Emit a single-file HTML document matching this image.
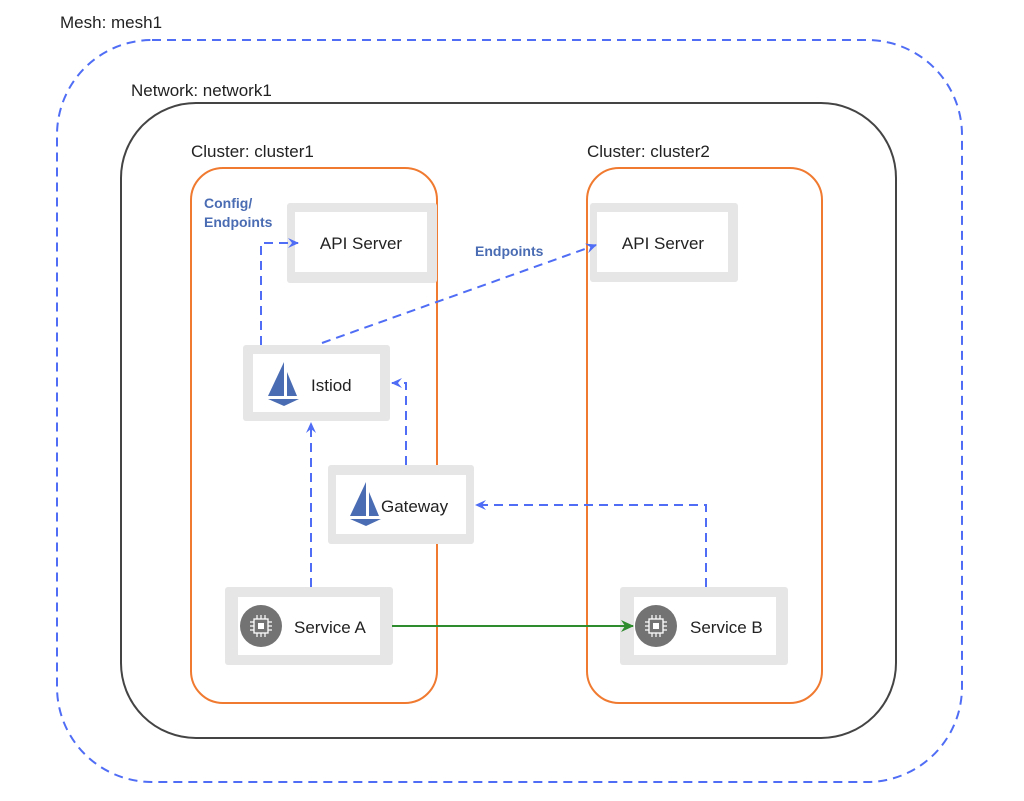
<!DOCTYPE html>
<html><head><meta charset="utf-8"><style>
html,body{margin:0;padding:0;background:#fff;}
svg{display:block;}
text{font-family:"Liberation Sans",sans-serif;}
</style></head><body>
<svg width="1024" height="801" viewBox="0 0 1024 801" xmlns="http://www.w3.org/2000/svg">
<defs>
<marker id="ab" markerWidth="12" markerHeight="12" refX="10" refY="6" orient="auto" markerUnits="userSpaceOnUse">
<path d="M0,1 L11,6 L0,11 L4,6 Z" fill="#4f6df5"/></marker>
<marker id="ag" markerWidth="14" markerHeight="12" refX="12" refY="6" orient="auto" markerUnits="userSpaceOnUse">
<path d="M0,0 L13,6 L0,12 L4,6 Z" fill="#2e8b2e"/></marker>
</defs>
<text x="60" y="28" font-size="17" fill="#222">Mesh: mesh1</text>
<rect x="57" y="40" width="905" height="742" rx="95" fill="none" stroke="#4f6df5" stroke-width="2" stroke-dasharray="9,6"/>
<text x="131" y="96" font-size="17" fill="#222">Network: network1</text>
<rect x="121" y="103" width="775" height="635" rx="75" fill="none" stroke="#444" stroke-width="2"/>
<text x="191" y="157" font-size="17" fill="#222">Cluster: cluster1</text>
<rect x="191" y="168" width="246" height="535" rx="32" fill="none" stroke="#f07a30" stroke-width="2"/>
<text x="587" y="157" font-size="17" fill="#222">Cluster: cluster2</text>
<rect x="587" y="168" width="235" height="535" rx="32" fill="none" stroke="#f07a30" stroke-width="2"/>

<g fill="#e6e6e6">
<rect x="287" y="203" width="150" height="80" rx="3"/>
<rect x="590" y="203" width="148" height="79" rx="3"/>
<rect x="243" y="345" width="147" height="76" rx="3"/>
<rect x="328" y="465" width="146" height="79" rx="3"/>
<rect x="225" y="587" width="168" height="78" rx="3"/>
<rect x="620" y="587" width="168" height="78" rx="3"/>
</g>
<g fill="#fff">
<rect x="295" y="212" width="132" height="60"/>
<rect x="597" y="212" width="131" height="60"/>
<rect x="253" y="354" width="127" height="58"/>
<rect x="336" y="475" width="130" height="59"/>
<rect x="238" y="597" width="142" height="58"/>
<rect x="634" y="597" width="142" height="58"/>
</g>
<g font-size="17" fill="#222">
<text x="361" y="249" text-anchor="middle">API Server</text>
<text x="663" y="249" text-anchor="middle">API Server</text>
<text x="311" y="391">Istiod</text>
<text x="381" y="512">Gateway</text>
<text x="294" y="633">Service A</text>
<text x="690" y="633">Service B</text>
</g>
<g fill="#4a6cb3">
<path d="M284,362 L284,396 L268,396 Z"/><path d="M287,372 L287,396 L297,396 Z"/><path d="M268,399 L299,399 L284,406 Z"/>
<path d="M366,482 L366,516 L350,516 Z"/><path d="M369,492 L369,516 L379,516 Z"/><path d="M350,519 L381,519 L366,526 Z"/>
</g>
<g>
<circle cx="261" cy="626" r="21" fill="#737373"/>
<rect x="254" y="619" width="14" height="14" fill="none" stroke="#fff" stroke-width="1.3"/>
<rect x="258" y="623" width="6" height="6" fill="#fff"/>
<path d="M257,619v-4M261,619v-4M265,619v-4M257,633v4M261,633v4M265,633v4M254,622h-4M254,626h-4M254,630h-4M268,622h4M268,626h4M268,630h4" stroke="#fff" stroke-width="1.2"/>
<circle cx="656" cy="626" r="21" fill="#737373"/>
<rect x="649" y="619" width="14" height="14" fill="none" stroke="#fff" stroke-width="1.3"/>
<rect x="653" y="623" width="6" height="6" fill="#fff"/>
<path d="M652,619v-4M656,619v-4M660,619v-4M652,633v4M656,633v4M660,633v4M649,622h-4M649,626h-4M649,630h-4M663,622h4M663,626h4M663,630h4" stroke="#fff" stroke-width="1.2"/>
</g>
<g fill="none" stroke="#4f6df5" stroke-width="2" stroke-dasharray="9,6">
<path d="M261,345 V243 H298" marker-end="url(#ab)"/>
<path d="M322,343 L596,245" marker-end="url(#ab)"/>
<path d="M406,465 V383 H392" marker-end="url(#ab)"/>
<path d="M311,587 V423" marker-end="url(#ab)"/>
<path d="M706,587 V505 H476" marker-end="url(#ab)"/>
</g>
<path d="M392,626 H633" stroke="#2e8b2e" stroke-width="2" fill="none" marker-end="url(#ag)"/>
<g font-size="14" font-weight="bold" fill="#4a6cb3">
<text x="204" y="208">Config/</text>
<text x="204" y="227">Endpoints</text>
<text x="475" y="256">Endpoints</text>
</g>
</svg>
</body></html>
